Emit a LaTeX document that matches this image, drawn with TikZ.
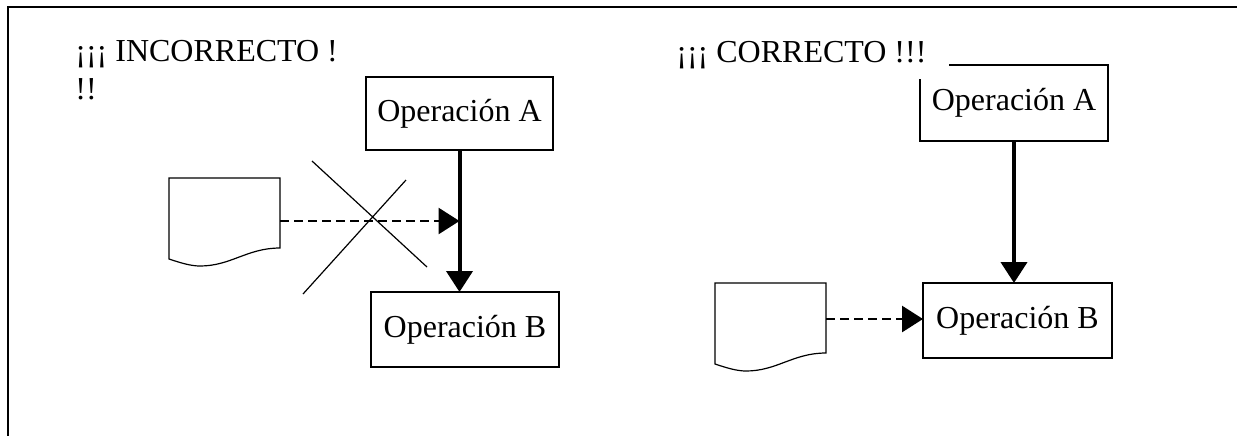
\documentclass[tikz,border=0pt]{standalone}
\usepackage{fontspec}
\setmainfont{Liberation Serif}
\usepackage{tikz}
\usetikzlibrary{positioning, arrows.meta, calc}

\def\pix{0.5pt}

\tikzset{
    opbox/.style={draw, line width=0.6pt, inner sep=0, outer sep=0,
        font=\fontsize{16}{19}\selectfont},
    docbox/.style={inner sep=0, outer sep=0, minimum width=111*\pix},
    docline/.style={line width=0.6pt},
    titulo/.style={inner sep=0, align=left, font=\fontsize{16}{19}\selectfont},
    flujo/.style={line width=2pt, -{Triangle[length=10.5pt,width=13pt]}},
    datos/.style={line width=1.4pt, dash pattern=on 4.5pt off 2.5pt,
        -{Triangle[length=10.5pt,width=13pt]}}
}

\begin{document}
\begin{tikzpicture}[x=\pix, y=-\pix]
    \useasboundingbox (0,0) rectangle (1237,436);

    % border
    \draw[line width=1pt] (1237,7) -- (8,7) -- (8,436);

    % operations
    \node[opbox, minimum width=187*\pix, minimum height=73*\pix] (opA1) at (459.5,113.5) {Operación A};
    \node[opbox, minimum width=188*\pix, minimum height=75*\pix] (opB1) at (465,329.5) {Operación B};
    \node[opbox, minimum width=188*\pix, minimum height=76*\pix] (opA2) at (1014,103) {Operación A};
    \node[opbox, minimum width=189*\pix, minimum height=75*\pix] (opB2) at (1017.5,320.5) {Operación B};

    % documents
    \node[docbox, minimum height=86*\pix] (docL) at (224.5,221) {};
    \node[docbox, minimum height=72*\pix] (docR) at (770.5,319) {};

    \foreach \d in {docL, docR}
    {
        \draw[docline]
            (\d.north east) -- (\d.north west) -- ($(\d.north west)+(0,81)$)
            .. controls ($(\d.north west)+(12,85)$) and ($(\d.north west)+(22,88)$) .. ($(\d.north west)+(31,88)$)
            .. controls ($(\d.north west)+(62,88)$) and ($(\d.north west)+(78,70)$) .. ($(\d.north west)+(111,70)$)
            -- cycle;
    }

    % flows
    \draw[flujo] (opA1.south) -- (opA1.south |- opB1.north);
    \draw[datos] (docL.east) -- (docL.east -| opA1.south);
    \draw[flujo] (opA2.south) -- (opA2.south |- opB2.north);
    \draw[datos] (docR.east) -- (docR.east -| opB2.west);

    % cross
    \draw[line width=0.6pt] (312,161) -- (427,267) (406,180) -- (303,294);

    % titles
    \node[titulo, anchor=north west] (tituloMal) at (75,40) {¡¡¡ INCORRECTO !\\!!};
    \node[titulo, fill=white, inner xsep=23*\pix, inner ysep=11*\pix, anchor=base west] (tituloBien) at (653,62) {¡¡¡ CORRECTO !!!};
\end{tikzpicture}
\end{document}
